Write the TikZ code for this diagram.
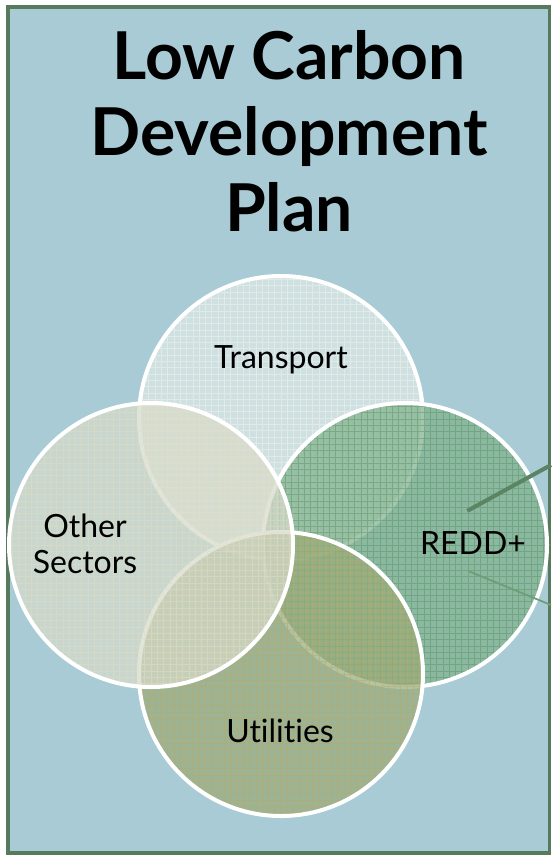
\documentclass[tikz,border=0pt]{standalone}
\usepackage{fontspec}
\setmainfont{Lato}[Ligatures=NoCommon]

\definecolor{panelblue}{HTML}{A8CBD5}
\definecolor{panelgreen}{HTML}{587A5C}
\definecolor{transportfill}{HTML}{DDE9E7}
\definecolor{transportgrid}{HTML}{F4F4EA}
\definecolor{otherfill}{HTML}{D4DBCC}
\definecolor{othergrid}{HTML}{EADDBE}
\definecolor{reddfill}{HTML}{80B28C}
\definecolor{reddgrid}{HTML}{5F9468}
\definecolor{utilfill}{HTML}{98AC7C}
\definecolor{utilgrid}{HTML}{BCA862}
\definecolor{leadgreen}{HTML}{5A8462}
\definecolor{leadlight}{HTML}{6E9E76}

\begin{document}
\begin{tikzpicture}[x=1pt,y=-1pt,
    sector/.style={circle, draw=white, line width=4pt, minimum size=284pt,
      inner sep=0pt, fill opacity=0.72},
    gridded/.style={path picture={
        \draw[#1, line width=0.6pt, opacity=0.5, step=6.3pt]
          (path picture bounding box.south west) grid
          (path picture bounding box.north east);}},
    lbl/.style={font=\fontsize{32}{36}\selectfont, text=black, align=center,
      inner sep=0pt},
  ]
  \useasboundingbox (0,0) rectangle (551,858);

  % panel
  \draw[panelgreen, line width=3.5pt, fill=panelblue] (8,7) rectangle (549.5,853);

  % title (base = last line)
  \node[font=\bfseries\fontsize{66}{76}\selectfont, align=center, anchor=base]
    (title) at (289,232) {Low Carbon\\Development\\Plan};

  % the four circles, bottom one first
  \node[sector, fill=transportfill, gridded=transportgrid] (transport) at (281,418) {};
  \node[sector, fill=reddfill, gridded=reddgrid] (redd) at (405,545) {};
  \node[sector, fill=utilfill, gridded=utilgrid] (utilities) at (281,674) {};
  \node[sector, fill=otherfill, gridded=othergrid] (other) at (151,545) {};

  % labels
  \node[lbl, anchor=base] (transportlbl) at (281,368) {Transport};
  \node[lbl, anchor=base] (otherlbl) at (85,573) {Other\\Sectors};
  \node[lbl, anchor=base] (reddlbl) at (473,554) {REDD+};
  \node[lbl, anchor=base] (utilitieslbl) at (280,742) {Utilities};

  % leader lines out of REDD+
  \coordinate (leadA) at (551,465);
  \coordinate (leadB) at (551,605);
  \draw[leadgreen, line width=4pt, shorten <=71pt] (redd.center) -- (leadA);
  \draw[leadlight, line width=1.8pt, shorten <=69pt] (redd.center) -- (leadB);
\end{tikzpicture}
\end{document}
